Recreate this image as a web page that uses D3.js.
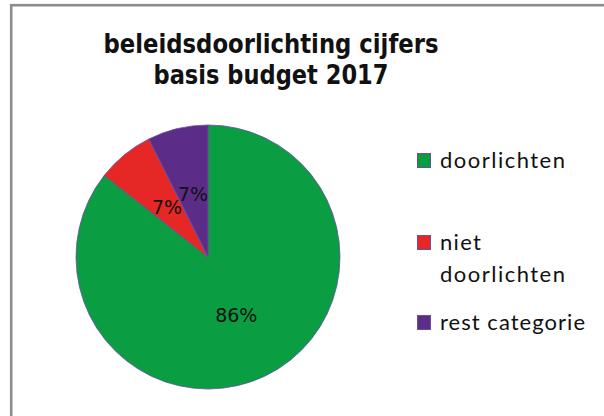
<!DOCTYPE html>
<html>
<head>
<meta charset="utf-8">
<script src="https://cdn.jsdelivr.net/npm/d3@7"></script>
<style>
  body { margin: 0; background: #fff; }
  svg { display: block; }
</style>
</head>
<body>
<script>
var width = 604;
var height = 416;

// data
var categories = ["doorlichten", "niet doorlichten", "rest categorie"];
var legendLines = [["doorlichten"], ["niet", "doorlichten"], ["rest categorie"]];
var values = [85.6, 7.0, 7.4];
var colors = ["#0a9d42", "#e52825", "#5b2d88"];
var titleLines = ["beleidsdoorlichting cijfers", "basis budget 2017"];

var origin = {"x": 208, "y": 257};   // centre of the pie
var radius = 132;

var svg = d3.select("body").append("svg")
    .attr("width", width)
    .attr("height", height);

svg.append("rect")
    .attr("width", width).attr("height", height)
    .attr("fill", "#fff");

// chart frame, runs off the right and bottom of the picture
svg.append("rect")
    .attr("x", 11.2).attr("y", 5.2)
    .attr("width", width + 20).attr("height", height + 20)
    .attr("fill", "none")
    .attr("stroke", "#8c8c8c")
    .attr("stroke-width", 2.6);

// title - widths
var titleWidths = [335, 235];
svg.append("g").selectAll("text")
    .data(titleLines)
    .join("text")
    .attr("x", 271)
    .attr("y", function(d, i){ return 53 + i * 31; })
    .attr("text-anchor", "middle")
    .attr("font-family", "DejaVu Sans, Verdana, sans-serif")
    .attr("font-weight", "bold")
    .attr("font-size", 27)
    .attr("textLength", function(d, i){ return titleWidths[i]; })
    .attr("lengthAdjust", "spacingAndGlyphs")
    .attr("fill", "#111")
    .text(function(d){ return d; });

// pie
var pie = d3.pie().sort(null).value(function(d){ return d; });
var arcs = pie(values);
var arc = d3.arc().innerRadius(0).outerRadius(radius);
var labelArc = d3.arc().innerRadius(radius * 0.49).outerRadius(radius * 0.49);
var fmt = d3.format(".0%");
var total = d3.sum(values);

var g = svg.append("g")
    .attr("transform", "translate(" + origin.x + "," + origin.y + ")");

g.selectAll("path")
    .data(arcs)
    .join("path")
    .attr("d", arc)
    .attr("fill", function(d, i){ return colors[i]; })
    .attr("stroke", "#6a4ea0")
    .attr("stroke-width", 0.8);

g.selectAll("text")
    .data(arcs)
    .join("text")
    .attr("transform", function(d){ return "translate(" + labelArc.centroid(d) + ")"; })
    .attr("text-anchor", "middle")
    .attr("dy", "0.36em")
    .attr("font-family", "DejaVu Sans, Verdana, sans-serif")
    .attr("font-size", 19)
    .attr("fill", "#111")
    .text(function(d){ return fmt(d.value / total); });

// legend
var legendY = [168, 250, 330];
var lineWidths = {"doorlichten": 125, "niet": 41, "rest categorie": 145};   // as in the picture
var legend = svg.append("g").selectAll("g")
    .data(categories)
    .join("g")
    .attr("transform", function(d, i){ return "translate(417," + legendY[i] + ")"; });

legend.append("rect")
    .attr("x", 0.5).attr("y", -14.5)
    .attr("width", 13).attr("height", 14)
    .attr("fill", function(d, i){ return colors[i]; })
    .attr("stroke", "#6a4ea0")
    .attr("stroke-width", 1);

legend.append("text")
    .attr("font-family", "Lato, sans-serif")
    .attr("font-size", 22)
    .attr("fill", "#111")
    .selectAll("tspan")
    .data(function(d, i){ return legendLines[i]; })
    .join("tspan")
    .attr("x", 23)
    .attr("y", function(d, i){ return i * 32; })
    .attr("textLength", function(d){ return lineWidths[d]; })
    .attr("lengthAdjust", "spacing")
    .text(function(d){ return d; });
</script>
</body>
</html>
